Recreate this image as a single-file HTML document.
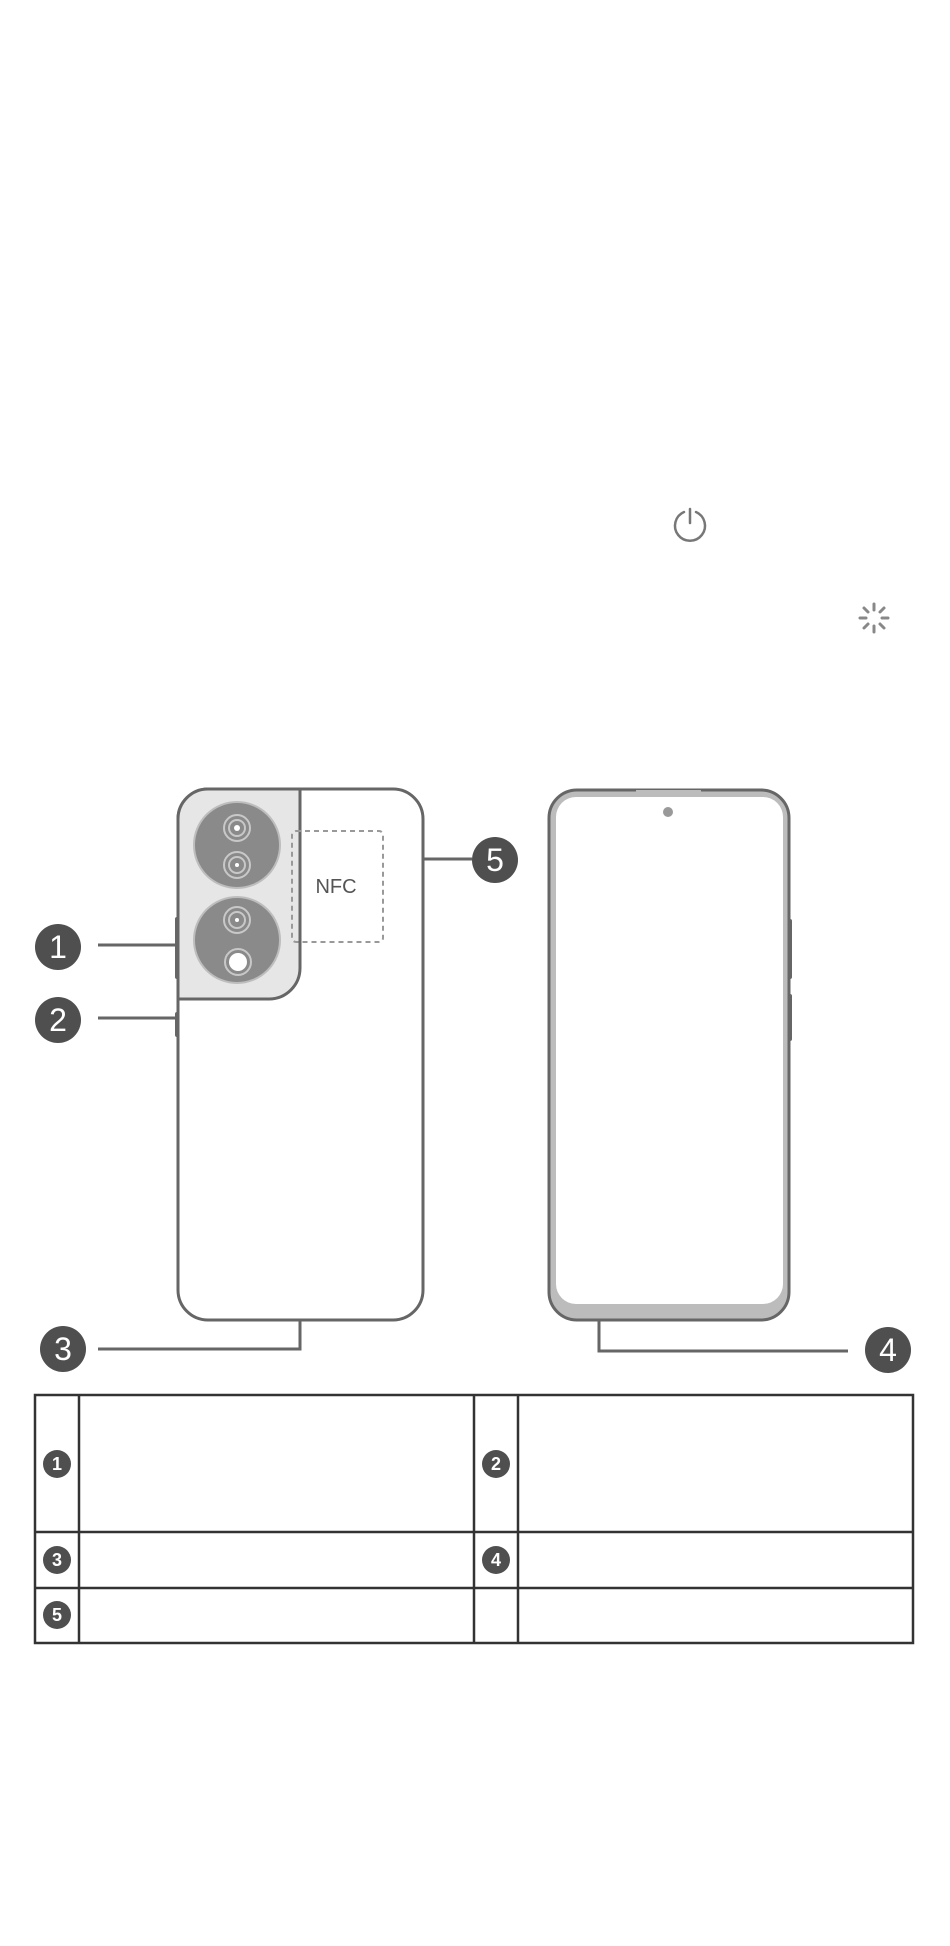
<!DOCTYPE html>
<html><head><meta charset="utf-8"><style>
html,body{margin:0;padding:0;background:#fff;}
svg{display:block;}
</style></head><body>
<svg width="950" height="1946" viewBox="0 0 950 1946" xmlns="http://www.w3.org/2000/svg" font-family="Liberation Sans, sans-serif">
<g transform="translate(1,4)">
<g stroke="#777" stroke-width="2.5" fill="none" stroke-linecap="round">
<path d="M683,508 A15,15 0 1 0 695,508"/>
<line x1="689" y1="505" x2="689" y2="519"/>
</g>
<g stroke="#888" stroke-width="3" stroke-linecap="round">
<line x1="873" y1="600" x2="873" y2="606"/>
<line x1="873" y1="622" x2="873" y2="628"/>
<line x1="859" y1="614" x2="865" y2="614"/>
<line x1="881" y1="614" x2="887" y2="614"/>
<line x1="863" y1="604" x2="867" y2="608"/>
<line x1="879" y1="620" x2="883" y2="624"/>
<line x1="883" y1="604" x2="879" y2="608"/>
<line x1="867" y1="620" x2="863" y2="624"/>
</g>
<rect x="174" y="913" width="4" height="62" rx="2" fill="#666"/>
<rect x="174" y="1008" width="4" height="25" rx="2" fill="#666"/>
<rect x="177" y="785" width="245" height="531" rx="30" fill="#fff" stroke="#666" stroke-width="3"/>
<path d="M177,995 L177,815 A30,30 0 0 1 207,785 L299,785 L299,964 A31,31 0 0 1 268,995 Z" fill="#e6e6e6" stroke="#666" stroke-width="3"/>
<circle cx="236" cy="841" r="43" fill="#8a8a8a" stroke="#bdbdbd" stroke-width="2"/>
<circle cx="236" cy="936" r="43" fill="#8a8a8a" stroke="#bdbdbd" stroke-width="2"/>
<g fill="none" stroke="#c8c8c8" stroke-width="2">
<circle cx="236" cy="824" r="13"/><circle cx="236" cy="824" r="8"/>
<circle cx="236" cy="861" r="13"/><circle cx="236" cy="861" r="8"/>
<circle cx="236" cy="916" r="13"/><circle cx="236" cy="916" r="8"/>
<circle cx="237" cy="958" r="13"/>
</g>
<circle cx="236" cy="824" r="3" fill="#fff"/>
<circle cx="236" cy="861" r="2" fill="#fff"/>
<circle cx="236" cy="916" r="2" fill="#fff"/>
<circle cx="237" cy="958" r="9" fill="#fff"/>
<rect x="291" y="827" width="91" height="111" rx="4" fill="none" stroke="#999" stroke-width="2" stroke-dasharray="5,4"/>
<text x="335" y="889" font-size="20" fill="#555" text-anchor="middle">NFC</text>
<rect x="787" y="915" width="4" height="60" rx="2" fill="#666"/>
<rect x="787" y="990" width="4" height="47" rx="2" fill="#666"/>
<rect x="548" y="786" width="240" height="530" rx="28" fill="#bcbcbd" stroke="#666" stroke-width="3"/>
<rect x="555" y="793" width="227" height="507" rx="20" fill="#fff"/>
<rect x="635" y="786" width="65" height="3" fill="#bcbcbd"/>
<circle cx="667" cy="808" r="5" fill="#999"/>
<g stroke="#666" stroke-width="3" fill="none">
<line x1="97" y1="941" x2="175" y2="941"/>
<line x1="97" y1="1014" x2="175" y2="1014"/>
<line x1="422" y1="855" x2="471" y2="855"/>
<polyline points="97,1345 299,1345 299,1316"/>
<polyline points="847,1347 598,1347 598,1316"/>
</g>
<g fill="#4f4f4f">
<circle cx="57" cy="943" r="23"/><circle cx="57" cy="1016" r="23"/>
<circle cx="494" cy="856" r="23"/><circle cx="62" cy="1345" r="23"/>
<circle cx="887" cy="1346" r="23"/>
</g>
<g fill="#fff" font-size="32" text-anchor="middle">
<text x="57" y="954">1</text><text x="57" y="1027">2</text>
<text x="494" y="867">5</text><text x="62" y="1356">3</text>
<text x="887" y="1357">4</text>
</g>
<g stroke="#333" stroke-width="2.5" fill="none">
<rect x="34" y="1391" width="878" height="248"/>
<line x1="34" y1="1528" x2="912" y2="1528"/>
<line x1="34" y1="1584" x2="912" y2="1584"/>
<line x1="78" y1="1391" x2="78" y2="1639"/>
<line x1="473" y1="1391" x2="473" y2="1639"/>
<line x1="517" y1="1391" x2="517" y2="1639"/>
</g>
<g fill="#4f4f4f">
<circle cx="56" cy="1460" r="14"/><circle cx="495" cy="1460" r="14"/>
<circle cx="56" cy="1556" r="14"/><circle cx="495" cy="1556" r="14"/>
<circle cx="56" cy="1611" r="14"/>
</g>
<g fill="#fff" font-size="18" font-weight="bold" text-anchor="middle">
<text x="56" y="1466">1</text><text x="495" y="1466">2</text>
<text x="56" y="1562">3</text><text x="495" y="1562">4</text>
<text x="56" y="1617">5</text>
</g>
</g>
</svg>
</body></html>
